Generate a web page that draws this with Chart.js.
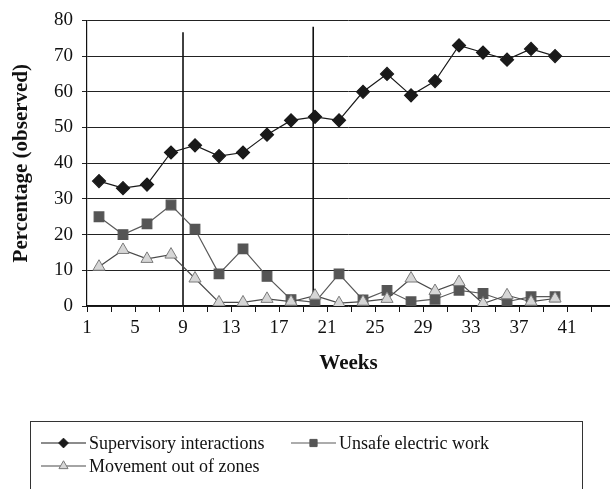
<!DOCTYPE html>
<html>
<head>
<meta charset="utf-8">
<script src="https://cdn.jsdelivr.net/npm/chart.js@4.4.1/dist/chart.umd.min.js"></script>
<style>
  html, body { margin: 0; padding: 0; background: #fff; }
</style>
</head>
<body>
<canvas id="chart" width="610" height="489"></canvas>
<script>
// observation weeks and percentages per behaviour
const weeks = [2, 4, 6, 8, 10, 12, 14, 16, 18, 20, 22, 24, 26, 28, 30, 32, 34, 36, 38, 40];
const supervisory = [35, 33, 34, 43, 45, 42, 43, 48, 52, 53, 52, 60, 65, 59, 63, 73, 71, 69, 72, 70];
const unsafeElectric = [25, 20, 23, 28.3, 21.5, 9, 16, 8.3, 1.8, 1, 9, 1.7, 4.4, 1.2, 1.9, 4.4, 3.5, 1.2, 2.6, 2.6];
const outOfZones = [11, 15.7, 13.2, 14.4, 7.7, 1, 1, 2, 1.2, 2.9, 0.8, 1.2, 2, 7.7, 4.2, 6.7, 0.7, 3, 1.2, 2.1];

// phase change markers (week, top of line)
const phaseWeeks = [9, 19.85];
const phaseTops = [76.7, 78.2];

const seriesNames = ["Supervisory interactions", "Unsafe electric work", "Movement out of zones"];
const xTickWeeks = [1, 3, 5, 7, 9, 11, 13, 15, 17, 19, 21, 23, 25, 27, 29, 31, 33, 35, 37, 39, 41, 43];
const xLabelWeeks = [1, 5, 9, 13, 17, 21, 25, 29, 33, 37, 41];

const serif = "'Liberation Serif', 'Times New Roman', serif";

function toPoints(values) {
  return values.map((v, i) => ({ x: weeks[i], y: v }));
}

function phaseLine(i) {
  return {
    type: "line",
    data: [{ x: phaseWeeks[i], y: 0 }, { x: phaseWeeks[i], y: phaseTops[i] }],
    borderColor: "#111",
    borderWidth: 1.6,
    pointRadius: 0,
    order: 5,
  };
}

const datasets = [
  {
    label: seriesNames[0],
    data: toPoints(supervisory),
    borderColor: "#1a1a1a",
    borderWidth: 1.2,
    pointStyle: "rectRot",
    pointRadius: 6.5,
    pointBackgroundColor: "#1a1a1a",
    pointBorderColor: "#1a1a1a",
    order: 3,
  },
  {
    label: seriesNames[1],
    data: toPoints(unsafeElectric),
    borderColor: "#5a5a5a",
    borderWidth: 1.2,
    pointStyle: "rect",
    pointRadius: 6.8,
    pointBackgroundColor: "#555",
    pointBorderColor: "#555",
    order: 2,
  },
  {
    label: seriesNames[2],
    data: toPoints(outOfZones),
    borderColor: "#4a4a4a",
    borderWidth: 1.2,
    pointStyle: "triangle",
    pointRadius: 7,
    pointBackgroundColor: "#d6d6d6",
    pointBorderColor: "#7a7a7a",
    pointBorderWidth: 1,
    order: 1,
  },
  phaseLine(0),
  phaseLine(1),
];

// legend drawn as a boxed two-column list under the axis
const boxLegend = {
  id: "boxLegend",
  afterDraw(chart) {
    const ctx = chart.ctx;
    const spots = [
      { x: 41, y: 443, ds: 0 },
      { x: 291, y: 443, ds: 1 },
      { x: 41, y: 466, ds: 2 },
    ];
    ctx.save();
    ctx.strokeStyle = "#333";
    ctx.lineWidth = 1;
    ctx.strokeRect(30.5, 421.5, 552, 90);
    ctx.font = "18px " + serif;
    ctx.textBaseline = "middle";
    ctx.fillStyle = "#111";
    spots.forEach((s) => {
      const ds = chart.data.datasets[s.ds];
      ctx.strokeStyle = ds.borderColor;
      ctx.lineWidth = 1.2;
      ctx.beginPath();
      ctx.moveTo(s.x, s.y);
      ctx.lineTo(s.x + 45, s.y);
      ctx.stroke();
      ctx.fillStyle = ds.pointBackgroundColor;
      ctx.strokeStyle = ds.pointBorderColor;
      ctx.lineWidth = ds.pointBorderWidth || 1;
      Chart.helpers.drawPoint(ctx, {
        pointStyle: ds.pointStyle,
        radius: ds.pointRadius * 0.75,
        borderWidth: ctx.lineWidth,
        rotation: 0,
      }, s.x + 22.5, s.y);
      ctx.fillStyle = "#111";
      ctx.fillText(ds.label, s.x + 48, s.y + 1);
    });
    ctx.restore();
  },
};

new Chart(document.getElementById("chart"), {
  type: "line",
  data: { datasets: datasets },
  plugins: [boxLegend],
  options: {
    responsive: false,
    animation: false,
    layout: { autoPadding: false, padding: { top: 17, left: 0, right: 0, bottom: 113 } },
    plugins: {
      legend: { display: false },
      tooltip: { enabled: false },
    },
    elements: { line: { tension: 0 } },
    scales: {
      x: {
        type: "linear",
        min: 1,
        max: 44.58,
        afterBuildTicks: (scale) => {
          scale.ticks = xTickWeeks.map((v) => ({ value: v }));
        },
        afterFit: (scale) => { scale.height = 70; },
        grid: {
          drawOnChartArea: false,
          drawTicks: true,
          tickLength: 6,
          color: "#111",
        },
        border: { color: "#111", width: 1.2 },
        ticks: {
          autoSkip: false,
          maxRotation: 0,
          padding: 5,
          color: "#111",
          font: { family: serif, size: 19 },
          callback: (v) => (xLabelWeeks.includes(v) ? String(v) : ""),
        },
        title: {
          display: true,
          text: "Weeks",
          color: "#111",
          font: { family: serif, size: 21, weight: "bold" },
          padding: { top: 0, bottom: 0 },
        },
      },
      y: {
        min: 0,
        max: 80,
        afterFit: (scale) => { scale.width = 87; },
        ticks: {
          stepSize: 10,
          padding: 9,
          color: "#111",
          font: { family: serif, size: 19 },
        },
        grid: {
          color: "#222",
          lineWidth: 1,
          tickLength: 5,
        },
        border: { color: "#111", width: 1.2 },
        title: {
          display: true,
          text: "Percentage (observed)",
          color: "#111",
          font: { family: serif, size: 21, weight: "bold" },
          padding: { top: 9, bottom: 0 },
        },
      },
    },
  },
});
</script>
</body>
</html>
